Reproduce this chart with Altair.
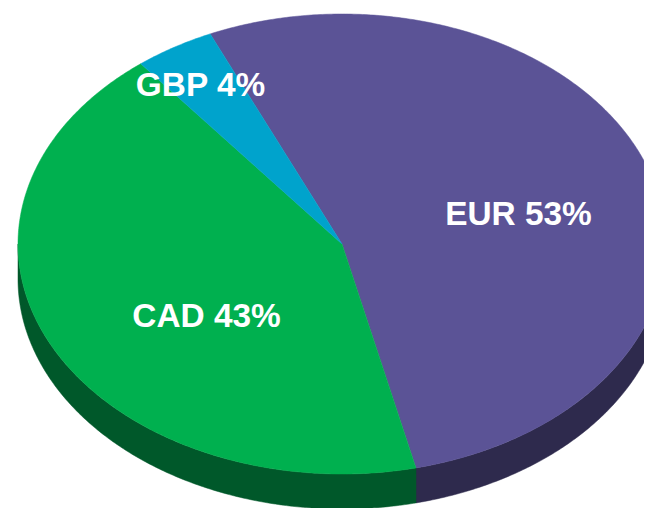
import math
import altair as alt

labels = ["EUR", "CAD", "GBP"]
shares = [53, 43, 4]
top_colors = ["#5B5396", "#00B04F", "#00A3CC"]
side_colors = ["#2E2A4D", "#00582A", "#005266"]
label_positions = [(510.5, 207), (198.5, 309), (192.5, 78)]

CX, CY, RX, RY, DEPTH = 334, 236, 324, 230, 35
START = -24.0


def pt(deg, dy=0):
    a = math.radians(deg)
    return [CX + RX * math.sin(a), CY - RY * math.cos(a) + dy]


def arc(a0, a1):
    n = max(2, int(abs(a1 - a0)) * 2)
    return [a0 + (a1 - a0) * i / n for i in range(n + 1)]


def feature(ring, name, color):
    return {
        "type": "Feature",
        "properties": {"name": name, "color": color},
        "geometry": {"type": "Polygon", "coordinates": [ring + [ring[0]]]},
    }


tops, sides = [], []
a = START
for name, share, tc, sc in zip(labels, shares, top_colors, side_colors):
    b = a + share * 3.6
    tops.append(feature([[CX, CY]] + [pt(t) for t in arc(a, b)], name, tc))
    lo, hi = max(a, 90), min(b, 270)
    if lo < hi:
        angles = arc(lo, hi)
        sides.append(
            feature([pt(t) for t in angles] + [pt(t, DEPTH) for t in reversed(angles)], name, sc)
        )
    a = b

PROJ = dict(type="identity", scale=1, translate=[0, 0])


def shapes(features):
    return (
        alt.Chart(alt.Data(values=features))
        .mark_geoshape(strokeWidth=0.5)
        .encode(
            fill=alt.Color("properties.color:N", scale=None),
            stroke=alt.Color("properties.color:N", scale=None),
        )
        .project(**PROJ)
    )


text_rows = [
    {"text": f"{n} {s}%", "lon": p[0], "lat": p[1]}
    for n, s, p in zip(labels, shares, label_positions)
]
text = (
    alt.Chart(alt.Data(values=text_rows))
    .mark_text(
        font="Liberation Sans",
        fontWeight="bold",
        fontSize=33.4,
        color="white",
        align="center",
        baseline="middle",
    )
    .encode(longitude="lon:Q", latitude="lat:Q", text="text:N")
    .project(**PROJ)
)

chart = (
    alt.layer(shapes(sides), shapes(tops), text)
    .properties(width=636, height=500, padding=0)
    .configure_view(stroke=None)
)

chart.save("out.html", embed_options={"renderer": "svg", "actions": False})
